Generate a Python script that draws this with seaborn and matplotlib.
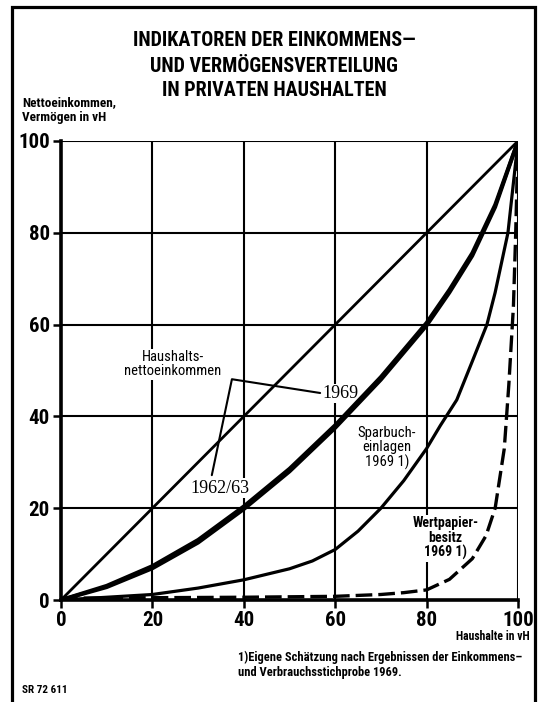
import matplotlib
matplotlib.use("Agg")
import matplotlib.pyplot as plt
from matplotlib.patches import Rectangle
from matplotlib import font_manager
import seaborn as sns

# Lorenz curves, share of households (x) vs. cumulative share (y), in vH
equal_x = [0, 100]
equal_y = [0, 100]

income_x = [0, 10, 20, 30, 40, 50, 60, 70, 80, 85, 90, 95, 100]
income_1969 = [0, 3.1, 7.4, 13.1, 20.4, 28.6, 38.1, 48.6, 60.4, 67.6, 75.6, 86.1, 100]
income_1962 = [0, 2.8, 6.9, 12.5, 19.8, 28.0, 37.5, 48.0, 59.8, 67.0, 75.0, 85.6, 100]

savings_x = [0, 10, 20, 30, 40, 50, 55, 60, 65, 70, 75, 80, 83, 86.6, 90, 93.2, 95, 97.8, 100]
savings_y = [0, 0.6, 1.2, 2.6, 4.4, 6.8, 8.5, 11.0, 15.0, 20.0, 26.0, 33.0, 38.0, 43.6, 52.0, 60.0, 67.0, 80.0, 100]

securities_x = [0, 20, 40, 60, 70, 75, 80, 85, 90, 93, 95, 97, 98, 99, 99.5, 100]
securities_y = [0.4, 0.5, 0.6, 0.8, 1.2, 1.6, 2.2, 4.5, 9.0, 14.0, 20.0, 33.0, 47.0, 64.0, 80.0, 100]

ticks = [0, 20, 40, 60, 80, 100]
tick_labels = ["0", "20", "40", "60", "80", "100"]

title_lines = ["INDIKATOREN DER EINKOMMENS\u2014",
               "UND VERMÖGENSVERTEILUNG",
               "IN PRIVATEN HAUSHALTEN"]

sns.set_style("white")
installed = {f.name for f in font_manager.fontManager.ttflist}
narrow = [f for f in ["Roboto Condensed", "Liberation Sans Narrow", "Roboto"]
          if f in installed] + ["DejaVu Sans"]
serif = ["Liberation Serif", "DejaVu Serif"]
plt.rcParams["font.family"] = narrow
plt.rcParams["text.color"] = "black"
plt.rcParams["xtick.color"] = "black"
plt.rcParams["ytick.color"] = "black"

W, H = 541, 702
fig = plt.figure(figsize=(W / 100, H / 100), dpi=100)
fig.patch.set_facecolor("white")


def fx(px):
    return px / W


def fy(py):
    return 1 - py / H


ax = fig.add_axes([fx(61), fy(600), fx(518) - fx(61), fy(141) - fy(600)])
ax.set_xlim(0, 100)
ax.set_ylim(0, 100)

# grid
for v in ticks[1:]:
    ax.axvline(v, color="black", lw=1.5, zorder=1)
    ax.axhline(v, color="black", lw=1.5, zorder=1)

sns.lineplot(x=equal_x, y=equal_y, ax=ax, color="black", lw=2.0, zorder=3)
sns.lineplot(x=income_x, y=income_1962, ax=ax, color="black", lw=2.8,
             estimator=None, sort=False, zorder=3)
sns.lineplot(x=income_x, y=income_1969, ax=ax, color="black", lw=2.8,
             estimator=None, sort=False, zorder=3)
sns.lineplot(x=savings_x, y=savings_y, ax=ax, color="black", lw=2.3,
             estimator=None, sort=False, zorder=3)
sns.lineplot(x=securities_x, y=securities_y, ax=ax, color="black", lw=2.4,
             estimator=None, sort=False, zorder=3, dashes=False,
             linestyle=(0, (5, 1.8)))

for side in ["left", "bottom"]:
    ax.spines[side].set_linewidth(2.6)
    ax.spines[side].set_color("black")
for side in ["top", "right"]:
    ax.spines[side].set_visible(False)

ax.set_xticks(ticks)
ax.set_yticks(ticks)
ax.set_xticklabels(tick_labels, fontweight="black", fontsize=15, family=narrow)
ax.set_yticklabels(tick_labels, fontweight="black", fontsize=15, family=narrow)
ax.tick_params(axis="both", direction="out", length=6, width=1.8,
               color="black", labelcolor="black", pad=2, bottom=True,
               left=True)
ax.set_xlabel("")
ax.set_ylabel("")

# annotations (white backing interrupts the grid behind the labels)
blank = dict(facecolor="white", edgecolor="none", pad=1.0)
ax.text(24.5, 51.4, "Haushalts-\nnettoeinkommen", ha="center", va="center",
        fontsize=10.5, linespacing=1.0, family=narrow, bbox=blank, zorder=2)
ax.plot([56.7, 37.4, 33.0], [45.1, 48.1, 27.2], color="black", lw=1.5,
        zorder=4)
ax.text(57.3, 45.0, "1969", ha="left", va="center", fontsize=13,
        family=serif, bbox=blank, zorder=2)
ax.text(34.8, 24.4, "1962/63", ha="center", va="center", fontsize=13,
        family=serif, bbox=blank, zorder=2)
ax.text(71.3, 33.1, "Sparbuch-\neinlagen\n1969 1)", ha="center",
        va="center", fontsize=10.5, linespacing=1.05, family=narrow)
ax.text(84.2, 13.5, "Wertpapier-\nbesitz\n1969 1)", ha="center",
        va="center", fontsize=10, fontweight="bold", linespacing=1.05,
        family=narrow, bbox=blank, zorder=2)

# titles and labels
for i, line in enumerate(title_lines):
    fig.text(fx(274), fy(41 + 25 * i), line, ha="center", va="center",
             fontsize=14.5, fontweight="black", family=narrow)

fig.text(fx(22), fy(110), "Nettoeinkommen,\nVermögen in vH", ha="left",
         va="center", fontsize=9.5, fontweight="black", linespacing=1.1,
         family=narrow)
fig.text(fx(530), fy(636), "Haushalte in vH", ha="right", va="center",
         fontsize=8.5, fontweight="black", family=narrow)
fig.text(fx(238), fy(665),
         "1)Eigene Schätzung nach Ergebnissen der Einkommens\u2013\n"
         "und Verbrauchsstichprobe 1969.", ha="left", va="center",
         fontsize=9, fontweight="black", linespacing=1.2, family=narrow)
fig.text(fx(22), fy(690), "SR 72 611", ha="left", va="center",
         fontsize=8, fontweight="black", family=narrow)

# outer frame
fig.patches.append(Rectangle((fx(12), -0.1), fx(535) - fx(12), fy(7) + 0.1,
                             transform=fig.transFigure, fill=False,
                             edgecolor="black", lw=2.3, zorder=0))

fig.savefig("out.png", dpi=100, facecolor="white")
